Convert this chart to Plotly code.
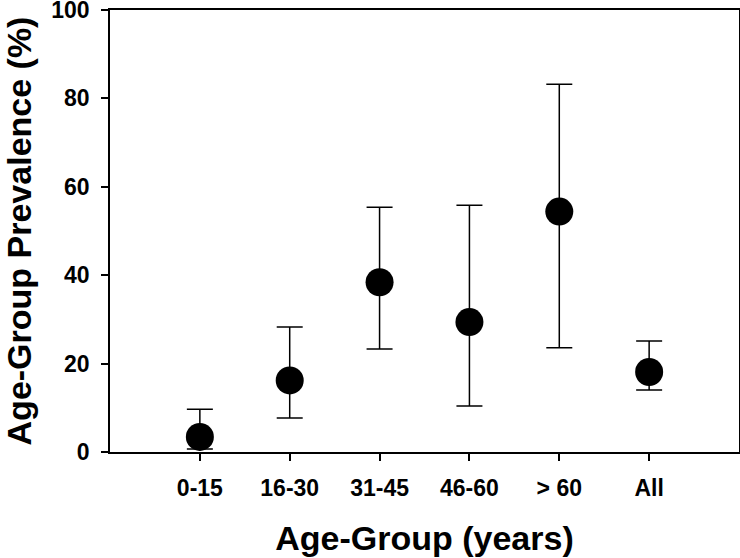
import plotly.graph_objects as go

categories = ["0-15", "16-30", "31-45", "46-60", "> 60", "All"]
prevalence = [3.4, 16.2, 38.4, 29.4, 54.4, 18.1]
upper_ci = [9.7, 28.3, 55.4, 55.8, 83.2, 25.1]
lower_ci = [0.7, 7.7, 23.3, 10.4, 23.6, 14.0]

err_plus = [u - v for u, v in zip(upper_ci, prevalence)]
err_minus = [v - l for v, l in zip(prevalence, lower_ci)]

font_family = "Liberation Sans, Arial, sans-serif"

fig = go.Figure()
fig.add_trace(go.Scatter(
    x=categories,
    y=prevalence,
    mode="markers",
    marker=dict(color="black", size=28, line=dict(width=0)),
    error_y=dict(type="data", symmetric=False, array=err_plus, arrayminus=err_minus,
                 color="black", thickness=1.5, width=13),
    showlegend=False,
))

fig.update_layout(
    width=740, height=558,
    margin=dict(l=110, r=1, t=10, b=106),
    paper_bgcolor="white", plot_bgcolor="white",
    font=dict(family=font_family, color="black"),
)
fig.update_xaxes(
    type="category", range=[-1, 6], automargin=False,
    showline=True, linecolor="black", linewidth=1.5, mirror=True,
    ticks="outside", ticklen=7, tickwidth=1.5, tickcolor="black",
    showgrid=False, zeroline=False,
    tickfont=dict(size=23, family=font_family, weight="bold"),
    ticklabelstandoff=8, ticklabeloverflow="allow",
    title=dict(text="<b>Age-Group (years)</b>", font=dict(size=34), standoff=26),
)
fig.update_yaxes(
    range=[0, 100], tickvals=[0, 20, 40, 60, 80, 100], automargin=False,
    showline=True, linecolor="black", linewidth=1.5, mirror=True,
    ticks="outside", ticklen=7, tickwidth=1.5, tickcolor="black",
    showgrid=False, zeroline=False,
    tickfont=dict(size=23, family=font_family, weight="bold"),
    ticklabelstandoff=7, ticklabeloverflow="allow",
    title=dict(text="<b>Age-Group Prevalence (%)</b>", font=dict(size=34), standoff=14),
)

fig.write_html("out.html", config={"displayModeBar": False},
               post_script="document.body.style.margin='0';")
